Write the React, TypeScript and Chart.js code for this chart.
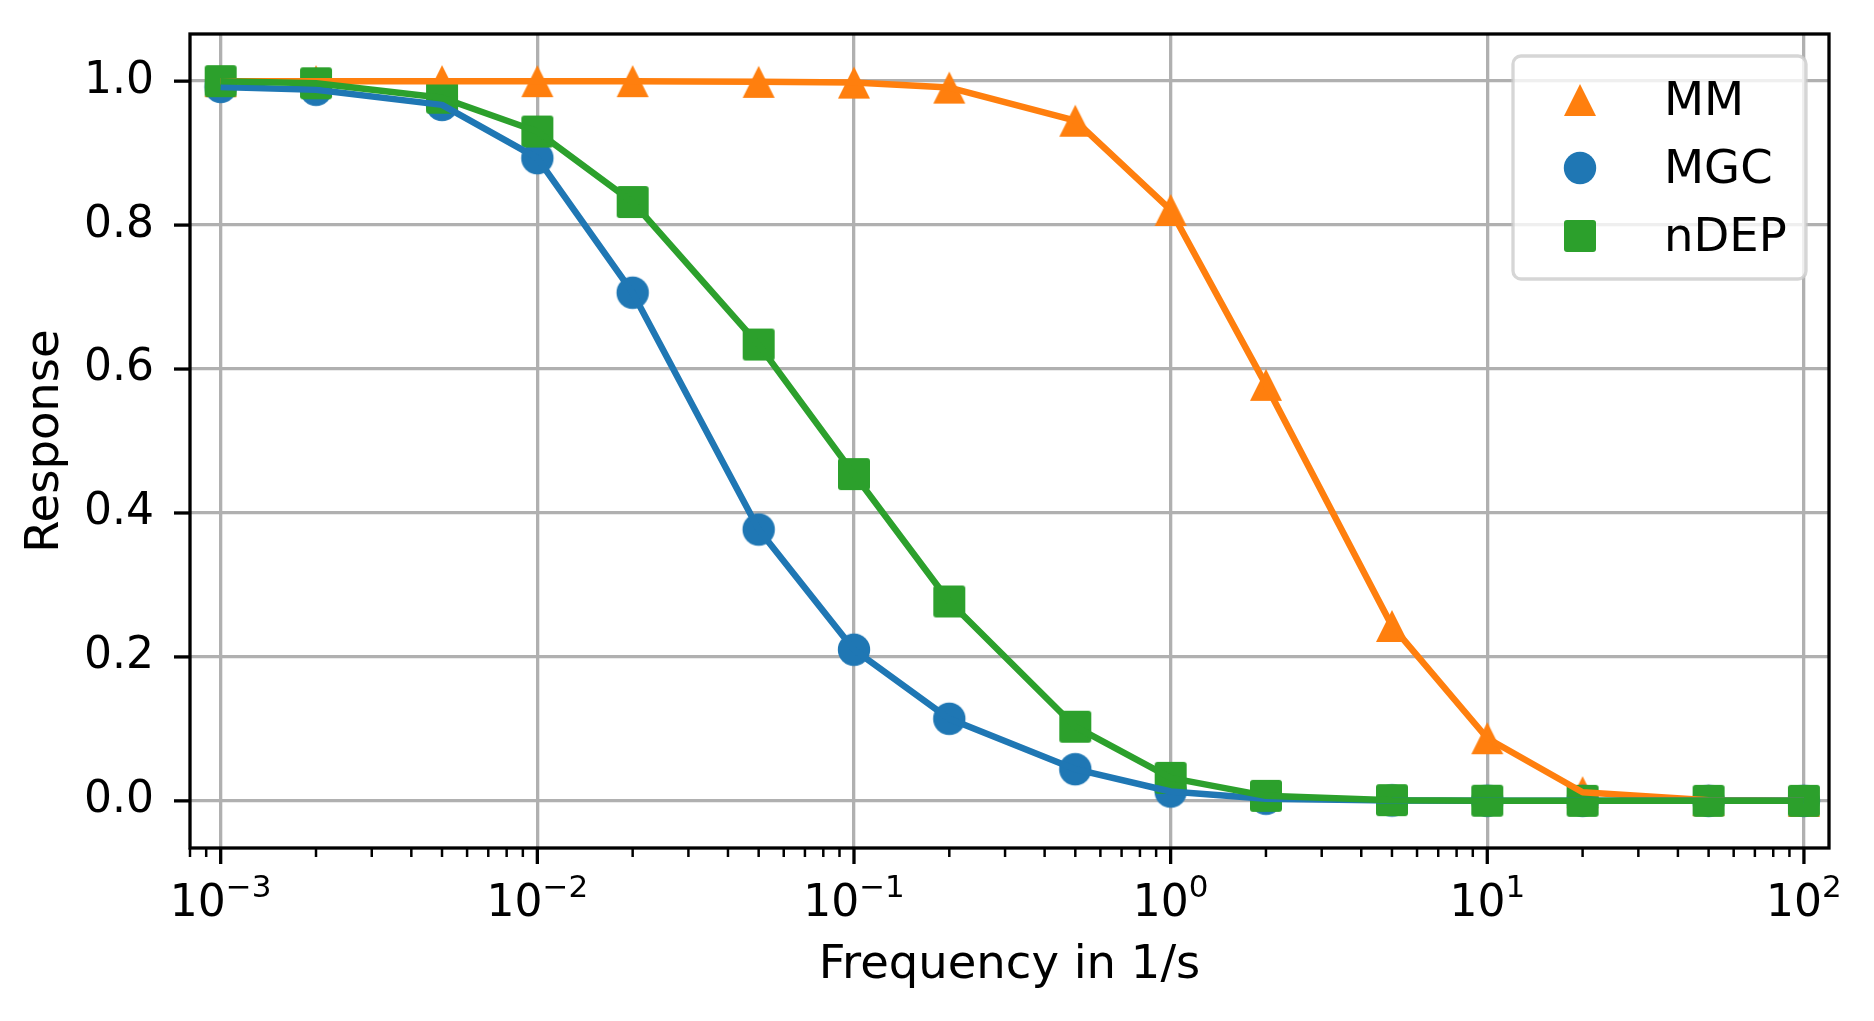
import React, { useEffect, useRef } from 'react';
import { Chart, registerables } from 'chart.js';

Chart.register(...registerables);

// sampled frequencies (1/s)
const freq = [0.001, 0.002, 0.005, 0.01, 0.02, 0.05, 0.1, 0.2, 0.5, 1, 2, 5, 10, 20, 50, 100];

// responses
const mm = [1.0, 1.0, 1.0, 1.0, 1.0, 0.999, 0.998, 0.991, 0.945, 0.821, 0.578, 0.243, 0.087, 0.012, 0.001, 0.0];
const mgc = [0.992, 0.988, 0.967, 0.893, 0.706, 0.377, 0.21, 0.114, 0.044, 0.013, 0.003, 0.0005, 0.0001, 0.0, 0.0, 0.0];
const ndep = [1.0, 0.997, 0.977, 0.93, 0.832, 0.634, 0.454, 0.277, 0.103, 0.032, 0.007, 0.001, 0.0002, 0.0, 0.0, 0.0];

const seriesNames = ['MM', 'MGC', 'nDEP'];
const seriesColors = ['#ff7f0e', '#1f77b4', '#2ca02c'];
const seriesShapes = ['triangle', 'circle', 'square'];

const yTicks = [0, 0.2, 0.4, 0.6, 0.8, 1.0];
const xMin = 0.0008;
const xMax = 120;

const FONT = 'DejaVu Sans';
const FONT_SIZE = 44;
const LABEL_SIZE = 46.5;
const SUP_SIZE = 31;
const GRID = '#b0b0b0';

const isDecade = (v: number) => Math.abs(Math.log10(v) - Math.round(Math.log10(v))) < 1e-6;

// log ticks: 1..9 x 10^k inside the axis range
const xTickValues: number[] = [];
for (let k = -4; k <= 2; k++) {
    for (let m = 1; m <= 9; m++) {
        const v = m * Math.pow(10, k);
        if (v >= xMin * 0.999 && v <= xMax) xTickValues.push(v);
    }
}

function makeMarker(shape: string, color: string): HTMLCanvasElement {
    const s = 36;
    const c = document.createElement('canvas');
    c.width = s;
    c.height = s;
    const g = c.getContext('2d')!;
    const m = s / 2;
    g.fillStyle = color;
    g.beginPath();
    if (shape === 'triangle') {
        const h = 16;
        g.moveTo(m, m - h);
        g.lineTo(m + h, m + h);
        g.lineTo(m - h, m + h);
        g.closePath();
    } else if (shape === 'circle') {
        g.arc(m, m, 16.2, 0, Math.PI * 2);
    } else {
        g.roundRect(m - 16, m - 16, 32, 32, 3);
    }
    g.fill();
    return c;
}

const App: React.FC = () => {
    const canvasRef = useRef<HTMLCanvasElement>(null);
    const chartRef = useRef<Chart | null>(null);

    useEffect(() => {
        document.body.style.margin = '0';
        if (!canvasRef.current) return;
        const ctx = canvasRef.current.getContext('2d');
        if (!ctx) return;

        const markers = seriesShapes.map((s, i) => makeMarker(s, seriesColors[i]));
        const values = [mm, mgc, ndep];
        const pts = (arr: number[]) => freq.map((f, i) => ({ x: f, y: arr[i] }));

        // markers sit under all the lines, like the original
        const scatterSets = values.map((arr, i) => ({
            label: seriesNames[i],
            data: pts(arr),
            showLine: false,
            pointStyle: markers[i],
            pointRadius: 16,
            pointHoverRadius: 16,
            borderColor: seriesColors[i],
            backgroundColor: seriesColors[i],
            order: 6 - i,
        }));
        const lineSets = values.map((arr, i) => ({
            label: seriesNames[i] + ' line',
            data: pts(arr),
            showLine: true,
            pointRadius: 0,
            pointHoverRadius: 0,
            borderColor: seriesColors[i],
            borderWidth: 6.5,
            borderJoinStyle: 'round' as const,
            tension: 0,
            order: 3 - i,
        }));

        const noPad = (scale: any) => {
            scale.paddingTop = 0;
            scale.paddingBottom = 0;
            scale.paddingLeft = 0;
            scale.paddingRight = 0;
        };

        const framePlugin = {
            id: 'frame',
            afterDatasetsDraw(chart: Chart) {
                const { ctx: c, chartArea: a } = chart;
                const xs: any = chart.scales.x;
                const ys: any = chart.scales.y;
                c.save();
                c.strokeStyle = '#000';
                c.lineWidth = 3.3;
                c.lineCap = 'butt';
                c.strokeRect(a.left, a.top, a.right - a.left, a.bottom - a.top);
                xTickValues.forEach(v => {
                    const px = xs.getPixelForValue(v);
                    const major = isDecade(v);
                    c.lineWidth = major ? 3.3 : 2.5;
                    c.beginPath();
                    c.moveTo(px, a.bottom);
                    c.lineTo(px, a.bottom + (major ? 16 : 9));
                    c.stroke();
                });
                c.lineWidth = 3.3;
                yTicks.forEach(v => {
                    const py = ys.getPixelForValue(v);
                    c.beginPath();
                    c.moveTo(a.left, py);
                    c.lineTo(a.left - 16, py);
                    c.stroke();
                });

                // decade labels as 10 with a raised exponent
                c.fillStyle = '#000';
                c.textBaseline = 'alphabetic';
                c.textAlign = 'left';
                const base = a.bottom + 68;
                xTickValues.filter(isDecade).forEach(v => {
                    const px = xs.getPixelForValue(v);
                    const exp = Math.round(Math.log10(v));
                    const expText = exp < 0 ? '\u2212' + Math.abs(exp) : String(exp);
                    c.font = `${FONT_SIZE}px "${FONT}"`;
                    const w1 = c.measureText('10').width;
                    c.font = `${SUP_SIZE}px "${FONT}"`;
                    const w2 = c.measureText(expText).width;
                    const x0 = px - (w1 + w2) / 2;
                    c.font = `${FONT_SIZE}px "${FONT}"`;
                    c.fillText('10', x0, base);
                    c.font = `${SUP_SIZE}px "${FONT}"`;
                    c.fillText(expText, x0 + w1, base - 19);
                });
                c.restore();
            },
            afterDraw(chart: Chart) {
                const { ctx: c, chartArea: a } = chart;
                const right = a.right - 23;
                const left = right - 293;
                const top = a.top + 22;
                const bottom = top + 223;
                c.save();
                c.beginPath();
                c.roundRect(left, top, right - left, bottom - top, 8);
                c.fillStyle = 'rgba(255,255,255,0.8)';
                c.fill();
                c.lineWidth = 3.3;
                c.strokeStyle = 'rgba(204,204,204,0.8)';
                c.stroke();
                c.font = `${LABEL_SIZE}px "${FONT}"`;
                c.fillStyle = '#000';
                c.textAlign = 'left';
                c.textBaseline = 'alphabetic';
                seriesNames.forEach((name, i) => {
                    const cy = top + 44 + i * 68;
                    const mk = markers[i];
                    c.drawImage(mk, left + 67 - mk.width / 2, cy - mk.height / 2);
                    c.fillText(name, left + 151, cy + 15);
                });
                c.restore();
            },
        };

        chartRef.current = new Chart(ctx, {
            type: 'line',
            data: { datasets: [...scatterSets, ...lineSets] as any },
            options: {
                responsive: true,
                maintainAspectRatio: false,
                animation: false,
                events: [],
                layout: { padding: { top: 34, right: 45, left: 0, bottom: 0 } },
                plugins: {
                    legend: { display: false },
                    tooltip: { enabled: false },
                },
                scales: {
                    x: {
                        type: 'logarithmic',
                        min: xMin,
                        max: xMax,
                        afterBuildTicks: (scale: any) => {
                            scale.ticks = xTickValues.map(v => ({ value: v, major: isDecade(v) }));
                        },
                        afterFit: (scale: any) => {
                            scale.height = 173;
                            noPad(scale);
                        },
                        ticks: { display: false, autoSkip: false },
                        grid: {
                            drawTicks: false,
                            lineWidth: 3.3,
                            color: (c: any) => (c.tick && isDecade(c.tick.value) ? GRID : 'rgba(0,0,0,0)'),
                        },
                        border: { display: false },
                        title: {
                            display: true,
                            text: 'Frequency in 1/s',
                            color: '#000',
                            font: { family: FONT, size: LABEL_SIZE },
                            padding: { top: 0, bottom: 27 },
                        },
                    },
                    y: {
                        type: 'linear',
                        min: -0.0655,
                        max: 1.0655,
                        afterBuildTicks: (scale: any) => {
                            scale.ticks = yTicks.map(v => ({ value: v }));
                        },
                        afterFit: (scale: any) => {
                            scale.width = 190;
                            noPad(scale);
                        },
                        ticks: {
                            padding: 36,
                            color: '#000',
                            font: { family: FONT, size: FONT_SIZE },
                            callback: (value: any) => Number(value).toFixed(1),
                        },
                        grid: {
                            drawTicks: false,
                            lineWidth: 3.3,
                            color: GRID,
                        },
                        border: { display: false },
                        title: {
                            display: true,
                            text: 'Response',
                            color: '#000',
                            font: { family: FONT, size: LABEL_SIZE },
                            padding: { top: 18, bottom: 0 },
                        },
                    },
                },
            },
            plugins: [framePlugin],
        });

        return () => {
            chartRef.current?.destroy();
            chartRef.current = null;
        };
    }, []);

    return (
        <div style={{ width: 1874, height: 1021, position: 'relative', background: '#fff' }}>
            <canvas ref={canvasRef} />
        </div>
    );
};

export default App;
